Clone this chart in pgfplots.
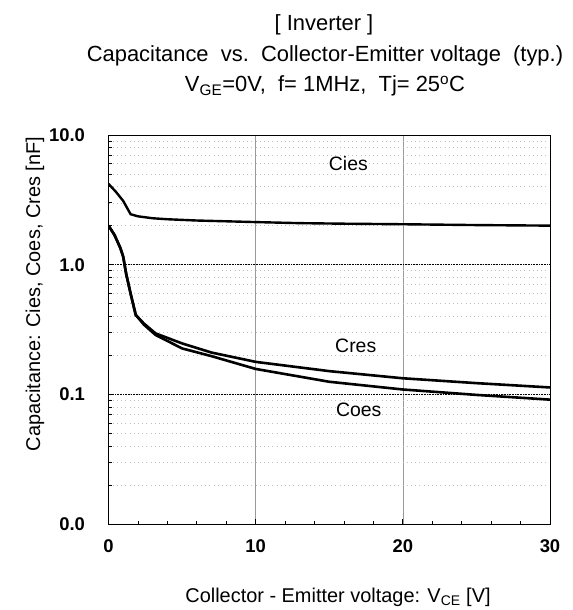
\documentclass[border=0pt]{standalone}
\usepackage{pgfplots}
\pgfplotsset{compat=1.18}
\usepackage{fontspec}
\setmainfont{Liberation Sans}
\begin{document}
\begin{tikzpicture}
\useasboundingbox (0bp,0bp) rectangle (573bp,610bp);
\begin{axis}[
  at={(108.5bp,86bp)}, anchor=south west,
  scale only axis, width=441.5bp, height=389bp,
  xmin=0, xmax=30, ymin=0.01, ymax=10, ymode=log,
  xtick={0,10,20,30}, xticklabels={0,10,20,30},
  minor xtick={2,4,...,28},
  ytick={0.01,0.1,1,10}, yticklabels={0.0,0.1,1.0,10.0},
  tick pos=left, tick align=inside,
  major tick length=5bp, minor tick length=3.5bp,
  xmajorgrids, ymajorgrids, yminorgrids,
  major x grid style={gray!80, line width=0.6bp},
  major y grid style={black, dash pattern=on 0.8bp off 0.8bp, line width=0.6bp},
  minor y grid style={gray!50, dash pattern=on 0.7bp off 3.5bp, line width=0.55bp},
  axis line style={line width=0.9bp},
  every tick/.style={black, line width=0.7bp},
  ticklabel style={font=\bfseries\fontsize{18.5}{20}\selectfont},
  yticklabel style={xshift=-20bp},
  xticklabel style={yshift=-12bp},
]
\addplot[black, line width=2.4bp] coordinates {
(0,4.2) (0.5,3.65) (1,3.1) (1.5,2.45) (2,2.36) (3,2.28) (4,2.24) (6,2.19)
(8,2.16) (10,2.13) (13,2.09) (16,2.07) (20,2.05) (25,2.02) (30,2.0)};
\addplot[black, line width=2.6bp] coordinates {
(0,2.0) (0.4,1.7) (0.8,1.35) (1.0,1.15) (1.2,0.85) (1.5,0.6) (1.85,0.41)
(2.4,0.352) (3.2,0.295) (5,0.247) (7,0.21) (10,0.178) (15,0.151) (20,0.133)
(25,0.122) (30,0.113)};
\addplot[black, line width=2.6bp] coordinates {
(0,2.0) (0.4,1.7) (0.8,1.35) (1.0,1.15) (1.2,0.85) (1.5,0.6) (1.85,0.41)
(2.4,0.345) (3.2,0.287) (5,0.226) (7,0.197) (10,0.157) (15,0.125) (20,0.109)
(25,0.099) (30,0.091)};
\node[font=\fontsize{19.5}{22}\selectfont] at (axis cs:16.3,6.0) {Cies};
\node[font=\fontsize{19.5}{22}\selectfont] at (axis cs:16.8,0.235) {Cres};
\node[font=\fontsize{19.5}{22}\selectfont] at (axis cs:17.0,0.0764) {Coes};
\end{axis}
\node[anchor=base, font=\fontsize{22}{26}\selectfont] at (324bp,579bp) {[ Inverter ]};
\node[anchor=base, font=\fontsize{22}{26}\selectfont] at (325bp,548bp) {Capacitance\ \ vs.\ \ Collector-Emitter voltage\ \ (typ.)};
\node[anchor=base, font=\fontsize{22}{26}\selectfont] at (325bp,518bp) {V\textsubscript{GE}=0V,\ \ f= 1MHz,\ \ Tj= 25\textsuperscript{o}C};
\node[anchor=base, font=\fontsize{20}{24}\selectfont] at (338bp,8bp) {Collector - Emitter voltage: V\textsubscript{CE} [V]};
\node[rotate=90, font=\fontsize{20}{24}\selectfont] at (35bp,316bp) {Capacitance: Cies, Coes, Cres [nF]};
\end{tikzpicture}
\end{document}
